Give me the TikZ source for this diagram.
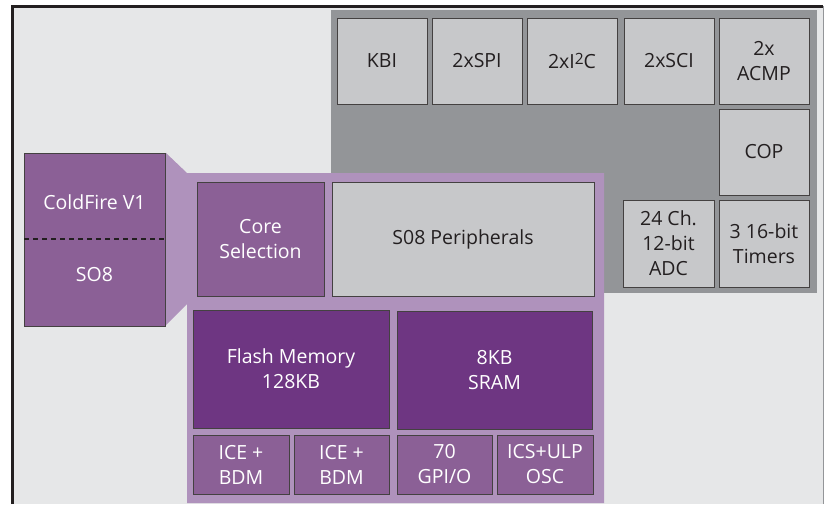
\documentclass[tikz,border=0pt]{standalone}
\usepackage{fontspec}
\setmainfont{Open Sans}
\definecolor{bgc}{HTML}{E6E7E8}
\definecolor{grayblk}{HTML}{939598}
\definecolor{lgray}{HTML}{C7C8CA}
\definecolor{lpurp}{HTML}{AF92BC}
\definecolor{mpurp}{HTML}{8B6096}
\definecolor{dpurp}{HTML}{6E3682}
\definecolor{txtdark}{HTML}{231F20}
\begin{document}
\begin{tikzpicture}[x=1pt,y=-1pt,
  blk/.style={draw=txtdark!85,line width=0.9pt,inner sep=0pt,outer sep=0pt,anchor=north west,align=center,font=\fontsize{19.5}{25}\selectfont},
  gbox/.style={blk,fill=lgray,text=txtdark},
  mbox/.style={blk,fill=mpurp,text=white},
  dbox/.style={blk,fill=dpurp,text=white}]
\useasboundingbox (0,0) rectangle (824,504);
\fill[white] (0,0) rectangle (824,504);
\fill[bgc] (12,6) rectangle (823,504);
\draw[grayblk,line width=1pt] (823,6) -- (823,504);
\draw[txtdark,line width=2.8pt] (12.4,504) -- (12.4,6.4) -- (823,6.4);
% peripheral gray area
\fill[grayblk] (331,10) rectangle (817,293);
% light purple block with wedge
\fill[lpurp] (166,153) -- (187,173) -- (604,173) -- (604,503) -- (187,503) -- (187,304) -- (166,325) -- cycle;
% top peripheral boxes
\node[gbox,minimum width=90pt,minimum height=86pt] (kbi) at (337,18) {KBI};
\node[gbox,minimum width=90pt,minimum height=86pt] (spi) at (432,18) {2xSPI};
\node[gbox,minimum width=90pt,minimum height=86pt] (iic) at (527,18) {2xI\raisebox{0.42ex}{\fontsize{15.5}{15.5}\selectfont 2}C};
\node[gbox,minimum width=90pt,minimum height=86pt] (sci) at (624,18) {2xSCI};
\node[gbox,minimum width=90pt,minimum height=86pt] (acmp) at (719,18) {2x\\ACMP};
\node[gbox,minimum width=90pt,minimum height=86pt] (cop) at (719,109) {COP};
\node[gbox,minimum width=91pt,minimum height=87pt] (adc) at (623,200) {24 Ch.\\12-bit\\ADC};
\node[gbox,minimum width=90pt,minimum height=87pt] (tim) at (719,200) {3 16-bit\\Timers};
% core box
\node[mbox,minimum width=141pt,minimum height=173pt] (cf) at (24,153) {};
\node[text=white,font=\fontsize{19.5}{25}\selectfont] (cft) at (94.5,202) {ColdFire V1};
\node[text=white,font=\fontsize{19.5}{25}\selectfont] (so8) at (94.5,275) {SO8};
\draw[txtdark,line width=2.2pt,dash pattern=on 5pt off 4pt] (cf.west |- 0,239) -- (cf.east |- 0,239);
% inner blocks
\node[mbox,minimum width=127pt,minimum height=114pt] (cs) at (197,182) {Core\\Selection};
\node[gbox,minimum width=262pt,minimum height=114pt] (s08) at (332,182) {S08 Peripherals};
\node[dbox,minimum width=196pt,minimum height=118pt] (flash) at (193,310) {Flash Memory\\128KB};
\node[dbox,minimum width=195pt,minimum height=118pt] (sram) at (397,311) {8KB\\SRAM};
\node[mbox,minimum width=96pt,minimum height=59pt] (ice1) at (193,435) {ICE +\\BDM};
\node[mbox,minimum width=95pt,minimum height=59pt] (ice2) at (294,435) {ICE +\\BDM};
\node[mbox,minimum width=95pt,minimum height=59pt] (gpio) at (397,435) {70\\GPI/O};
\node[mbox,minimum width=96pt,minimum height=59pt] (ics) at (497,435) {ICS+ULP\\OSC};
\end{tikzpicture}
\end{document}
